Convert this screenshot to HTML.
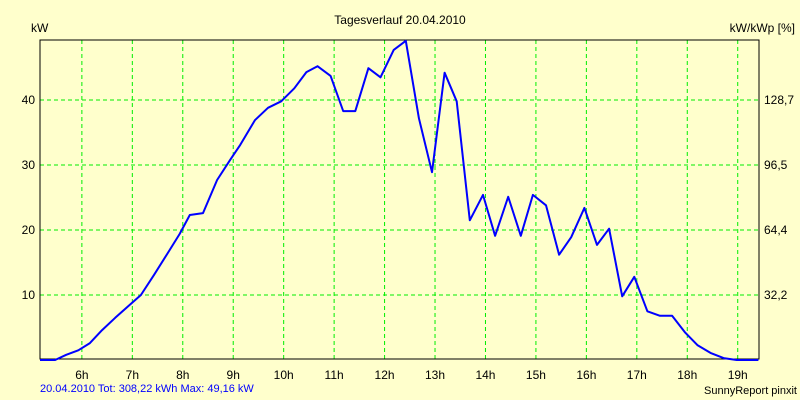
<!DOCTYPE html>
<html><head><meta charset="utf-8"><style>
body{margin:0;background:#ffffcc;}
svg{display:block;font-family:"Liberation Sans",sans-serif;}
</style></head><body>
<svg id="chart" width="800" height="400">
<rect x="0" y="0" width="800" height="400" fill="#ffffcc"/>
<text x="400" y="24" text-anchor="middle" font-size="12">Tagesverlauf 20.04.2010</text>
<text x="31" y="32" font-size="12">kW</text>
<text x="795" y="32" text-anchor="end" font-size="12">kW/kWp [%]</text>
<text x="40" y="392" font-size="11" fill="#0000ff">20.04.2010 Tot: 308,22 kWh Max: 49,16 kW</text>
<text x="797" y="394" text-anchor="end" font-size="11">SunnyReport pinxit</text>
<g id="grid"></g><g id="axes"></g><g id="series"></g>
</svg>
<script>
const hours=[5.17,5.47,5.69,5.93,6.16,6.40,6.66,6.92,7.17,7.43,7.69,7.94,8.14,8.40,8.68,8.94,9.14,9.43,9.69,9.95,10.21,10.45,10.67,10.93,11.18,11.42,11.68,11.92,12.18,12.42,12.68,12.94,13.19,13.43,13.69,13.95,14.19,14.45,14.70,14.94,15.20,15.46,15.70,15.96,16.21,16.45,16.71,16.95,17.21,17.46,17.70,17.96,18.20,18.46,18.72,18.98,19.41];
const kw=[0,0,0.8,1.5,2.6,4.6,6.5,8.3,10,13.1,16.3,19.4,22.3,22.6,27.7,30.8,33.1,36.9,38.8,39.8,41.8,44.3,45.2,43.7,38.3,38.3,44.9,43.5,47.7,49.1,37.2,28.9,44.2,39.8,21.5,25.4,19.1,25.1,19.1,25.4,23.8,16.2,18.9,23.4,17.7,20.2,9.8,12.8,7.5,6.8,6.8,4.2,2.3,1.1,0.3,0,0];
const xTicks=[6,7,8,9,10,11,12,13,14,15,16,17,18,19];
const yTicks=[10,20,30,40];
const yRightLabels=["32,2","64,4","96,5","128,7"];
const L=40,R=759,T=40,B=359;
const x=h=>L+(h-5.17)*50.45;
const y=v=>360-v*6.5;
const NS="http://www.w3.org/2000/svg";
function mk(tag,attrs,parent,txt){const e=document.createElementNS(NS,tag);for(const k in attrs)e.setAttribute(k,attrs[k]);if(txt!==undefined)e.textContent=txt;parent.appendChild(e);return e;}
const grid=document.getElementById('grid'),axes=document.getElementById('axes'),series=document.getElementById('series');
xTicks.forEach(h=>{
 const g=mk('line',{x1:x(h),x2:x(h),y1:T,y2:B,stroke:'#00ee00','stroke-dasharray':'4,3','stroke-width':1},grid);
 
 
 const t=mk('text',{x:x(h),y:379,'text-anchor':'middle','font-size':12},axes,h+'h');
 
 
});
yTicks.forEach((v,i)=>{
 const g=mk('line',{x1:L,x2:R,y1:y(v),y2:y(v),stroke:'#00ee00','stroke-dasharray':'4,3','stroke-width':1},grid);
 
 
 const t=mk('text',{x:35,y:y(v)+4,'text-anchor':'end','font-size':12},axes,String(v));
 
 
 const r=mk('text',{x:764,y:y(v)+4,'font-size':12},axes,yRightLabels[i]);
 
 
});
const frame=mk('rect',{x:L,y:T,width:R-L,height:B-T,fill:'none',stroke:'#000','stroke-width':1},axes);


const pts=hours.map((h,i)=>x(h).toFixed(1)+','+y(kw[i]).toFixed(1)).join(' ');
const line=mk('polyline',{points:pts,fill:'none',stroke:'#0000ff','stroke-width':2,'stroke-linejoin':'round'},series);


</script>
</body></html>
